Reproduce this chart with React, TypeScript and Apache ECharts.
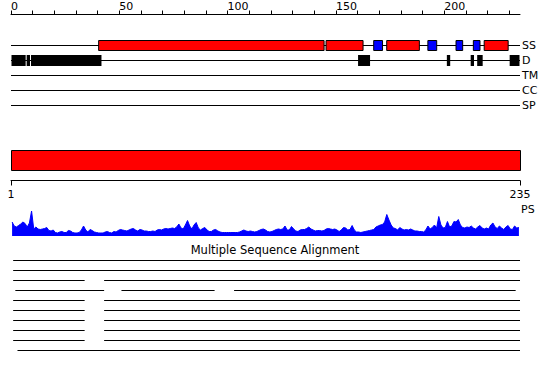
import React, { useEffect, useRef } from 'react';
import * as echarts from 'echarts';

const SEQ_LENGTH = 235;
const topTickValues = [0, 10, 20, 30, 40, 50, 60, 70, 80, 90, 100, 110, 120, 130, 140, 150, 160, 170, 180, 190, 200, 210, 220, 230];
const topLabelValues = [0, 50, 100, 150, 200];
const trackNames = ['SS', 'D', 'TM', 'CC', 'SP'];
const helixRanges = [[41, 145], [146, 163], [174, 189], [219, 230]];
const strandRanges = [[168, 172], [193, 197], [206, 209], [214, 217]];
const disorderRanges = [[1, 7], [8, 9], [10, 42], [161, 166], [202, 203], [213, 214], [216, 218], [231, 235]];
const psAxisLabels = [1, 235];
const psLabel = 'PS';
const psScores = [
  14, 10, 9, 10.5, 12, 14, 12.5, 9, 13, 25,
  7, 9, 7, 6.5, 7, 7.5, 8.5, 5.5, 5, 6,
  3.5, 3, 4, 4.5, 3.5, 3.5, 5.5, 5, 3.5, 3,
  3, 3.5, 6, 10, 6, 4, 6.5, 5.5, 4, 3.5,
  3, 3, 3, 4, 4.5, 3.5, 3, 4.5, 4, 5.5,
  6.5, 6, 5.5, 5, 6, 7, 7.5, 6, 5, 6.5,
  6, 5, 5, 4.5, 4.5, 5, 4.5, 6, 6.5, 6,
  7, 7.5, 7, 7.5, 8, 7.5, 9, 12, 8, 7,
  11, 15.5, 10, 7, 11, 13.5, 8, 6, 7.5, 8.5,
  6, 4.5, 4.5, 6, 6.5, 5, 4, 3.5, 3.5, 3.5,
  3.5, 3.5, 3.5, 3.5, 3.5, 4, 5, 6, 5, 4.5,
  5, 4.5, 4, 4.5, 5.5, 6.5, 7, 6, 4.5, 4,
  4.5, 5.5, 6.5, 7, 6.5, 7, 10, 6, 6, 9.5,
  7, 5, 4.5, 6, 6.5, 6.5, 7.5, 9, 7, 6,
  5, 5.5, 5.5, 5, 5.5, 7, 7.5, 7, 6.5, 7,
  6, 4.5, 6, 8.5, 8, 6, 6.5, 10.5, 6, 4,
  4, 3.5, 4, 4.5, 5, 5.5, 6, 6.5, 9, 10,
  11, 11.5, 14, 21.5, 16, 11, 8, 7.5, 6, 8.5,
  7, 6, 6.5, 6, 7, 6, 5, 5, 4.5, 4.5,
  4, 6, 10, 7, 8.5, 11, 8, 19.5, 11, 8,
  8.5, 14.5, 9, 10, 14.5, 14, 16.5, 11, 8.5, 8,
  9, 8.5, 10, 8, 7, 9, 10.5, 8, 7, 8,
  7, 11, 13, 9, 7.5, 10, 8, 6.5, 9, 10.5,
  7, 6.5, 10, 8, 8.5,
];
const msaTitle = 'Multiple Sequence Alignment';
const msaRows = [
  [[1, 235]],
  [[1, 235]],
  [[1, 34], [43, 235]],
  [[2, 43], [51, 94], [103, 233]],
  [[1, 34], [43, 235]],
  [[1, 34], [43, 235]],
  [[1, 34], [43, 235]],
  [[1, 34], [43, 235]],
  [[1, 34], [43, 235]],
  [[3, 235]],
];

const FONT = 'DejaVu Sans';

type TrackItem = { s: number; e: number; row: number; kind: string };

export default function App() {
  const ref = useRef<HTMLDivElement>(null);
  useEffect(() => {
    document.body.style.margin = '0';
    const chart = echarts.init(ref.current as HTMLDivElement, null, { renderer: 'svg' });

    const trackItems: TrackItem[] = [];
    trackNames.forEach((_, i) => trackItems.push({ s: 0, e: SEQ_LENGTH, row: i + 1, kind: 'line' }));
    helixRanges.forEach(([s, e]) => trackItems.push({ s, e, row: 1, kind: 'helix' }));
    strandRanges.forEach(([s, e]) => trackItems.push({ s, e, row: 1, kind: 'strand' }));
    disorderRanges.forEach(([s, e]) => trackItems.push({ s, e, row: 2, kind: 'disorder' }));

    const msaItems: number[][] = [];
    msaRows.forEach((segs, r) => segs.forEach(([s, e]) => msaItems.push([s, e, r + 1])));

    const textStyle = { color: '#000', fontSize: 11, fontFamily: FONT };

    const option: any = {
      animation: false,
      backgroundColor: '#fff',
      title: {
        text: msaTitle,
        left: 'center',
        top: 243.5,
        padding: 0,
        textStyle: { fontSize: 11.5, fontWeight: 'normal', color: '#000', fontFamily: FONT },
      },
      graphic: [
        { type: 'text', left: 521, top: 204, style: { text: psLabel, fontSize: 11, fontFamily: FONT, fill: '#000' } },
      ],
      grid: [
        { left: 11, width: 509, top: 30.5, height: 82.5 },
        { left: 11, width: 509, top: 150.5, height: 30 },
        { left: 11, width: 509, top: 210.5, height: 25.5 },
        { left: 11, width: 509, top: 250.5, height: 110 },
      ],
      xAxis: [
        {
          gridIndex: 0, type: 'value', position: 'top', offset: 16, min: 0, max: SEQ_LENGTH,
          axisLine: { show: true, onZero: false, lineStyle: { color: '#000', width: 1 } },
          axisTick: { show: true, length: 4, customValues: topTickValues, lineStyle: { color: '#000', width: 1 } },
          axisLabel: { customValues: topLabelValues, align: 'left', margin: 3, ...textStyle },
          splitLine: { show: false },
        },
        {
          gridIndex: 1, type: 'value', position: 'bottom', min: psAxisLabels[0], max: psAxisLabels[1],
          axisLine: { show: true, onZero: false, lineStyle: { color: '#000', width: 1 } },
          axisTick: { show: true, length: 5, customValues: psAxisLabels, lineStyle: { color: '#000', width: 1 } },
          axisLabel: { customValues: psAxisLabels, margin: 8, ...textStyle },
          splitLine: { show: false },
        },
        { gridIndex: 2, type: 'value', min: 0, max: SEQ_LENGTH, show: false },
        { gridIndex: 3, type: 'value', min: 0, max: SEQ_LENGTH, show: false },
      ],
      yAxis: [
        {
          gridIndex: 0, type: 'value', min: 0, max: 5.5, inverse: true, position: 'right',
          axisLine: { show: false, onZero: false }, axisTick: { show: false }, splitLine: { show: false },
          axisLabel: {
            customValues: trackNames.map((_, i) => i + 1),
            formatter: (v: number) => trackNames[Math.round(v) - 1] ?? '',
            margin: 2,
            ...textStyle,
          },
        },
        { gridIndex: 1, type: 'value', min: 0, max: 30, inverse: true, show: false },
        { gridIndex: 2, type: 'value', min: 0, max: 25.5, show: false },
        { gridIndex: 3, type: 'value', min: 0, max: 11, inverse: true, show: false },
      ],
      series: [
        {
          type: 'custom',
          xAxisIndex: 0,
          yAxisIndex: 0,
          silent: true,
          encode: { x: [0, 1], y: 2 },
          data: trackItems.map((it) => [it.s, it.e, it.row]),
          renderItem: (params: any, api: any) => {
            const it = trackItems[params.dataIndex];
            if (it.kind === 'line') {
              const a = api.coord([it.s, it.row]);
              const b = api.coord([it.e, it.row]);
              return { type: 'line', shape: { x1: a[0], y1: a[1], x2: b[0], y2: b[1] }, style: { stroke: '#000', lineWidth: 1 } };
            }
            const a = api.coord([it.s - 1, it.row]);
            const b = api.coord([it.e, it.row]);
            if (it.kind === 'disorder') {
              return { type: 'rect', shape: { x: a[0] + 0.5, y: a[1] - 5.5, width: b[0] - a[0] - 1, height: 11 }, style: { fill: '#000' } };
            }
            return {
              type: 'rect',
              shape: { x: a[0] + 1, y: a[1] - 5, width: b[0] - a[0] - 2, height: 10 },
              style: { fill: it.kind === 'helix' ? '#ff0000' : '#0000ff', stroke: '#000', lineWidth: 1 },
            };
          },
        },
        {
          type: 'custom',
          xAxisIndex: 1,
          yAxisIndex: 1,
          silent: true,
          encode: { x: [0, 1] },
          data: [[psAxisLabels[0], psAxisLabels[1]]],
          renderItem: (params: any, api: any) => {
            const a = api.coord([api.value(0), 0]);
            const b = api.coord([api.value(1), 20]);
            return {
              type: 'rect',
              shape: { x: a[0] + 0.5, y: a[1], width: b[0] - a[0], height: b[1] - a[1] },
              style: { fill: '#ff0000', stroke: '#000', lineWidth: 1 },
            };
          },
        },
        {
          type: 'line',
          xAxisIndex: 2,
          yAxisIndex: 2,
          silent: true,
          symbol: 'none',
          data: psScores.map((v, i) => [i + 0.5, v]),
          lineStyle: { color: '#0000ff', width: 1 },
          areaStyle: { color: '#0000ff', opacity: 1 },
        },
        {
          type: 'custom',
          xAxisIndex: 3,
          yAxisIndex: 3,
          silent: true,
          encode: { x: [0, 1], y: 2 },
          data: msaItems,
          renderItem: (params: any, api: any) => {
            const a = api.coord([api.value(0), api.value(2)]);
            const b = api.coord([api.value(1), api.value(2)]);
            return { type: 'line', shape: { x1: a[0], y1: a[1], x2: b[0], y2: b[1] }, style: { stroke: '#000', lineWidth: 1 } };
          },
        },
      ],
    };
    chart.setOption(option);
    return () => chart.dispose();
  }, []);
  return <div ref={ref} style={{ position: 'absolute', left: 0, top: 0, width: 550, height: 380 }} />;
}
